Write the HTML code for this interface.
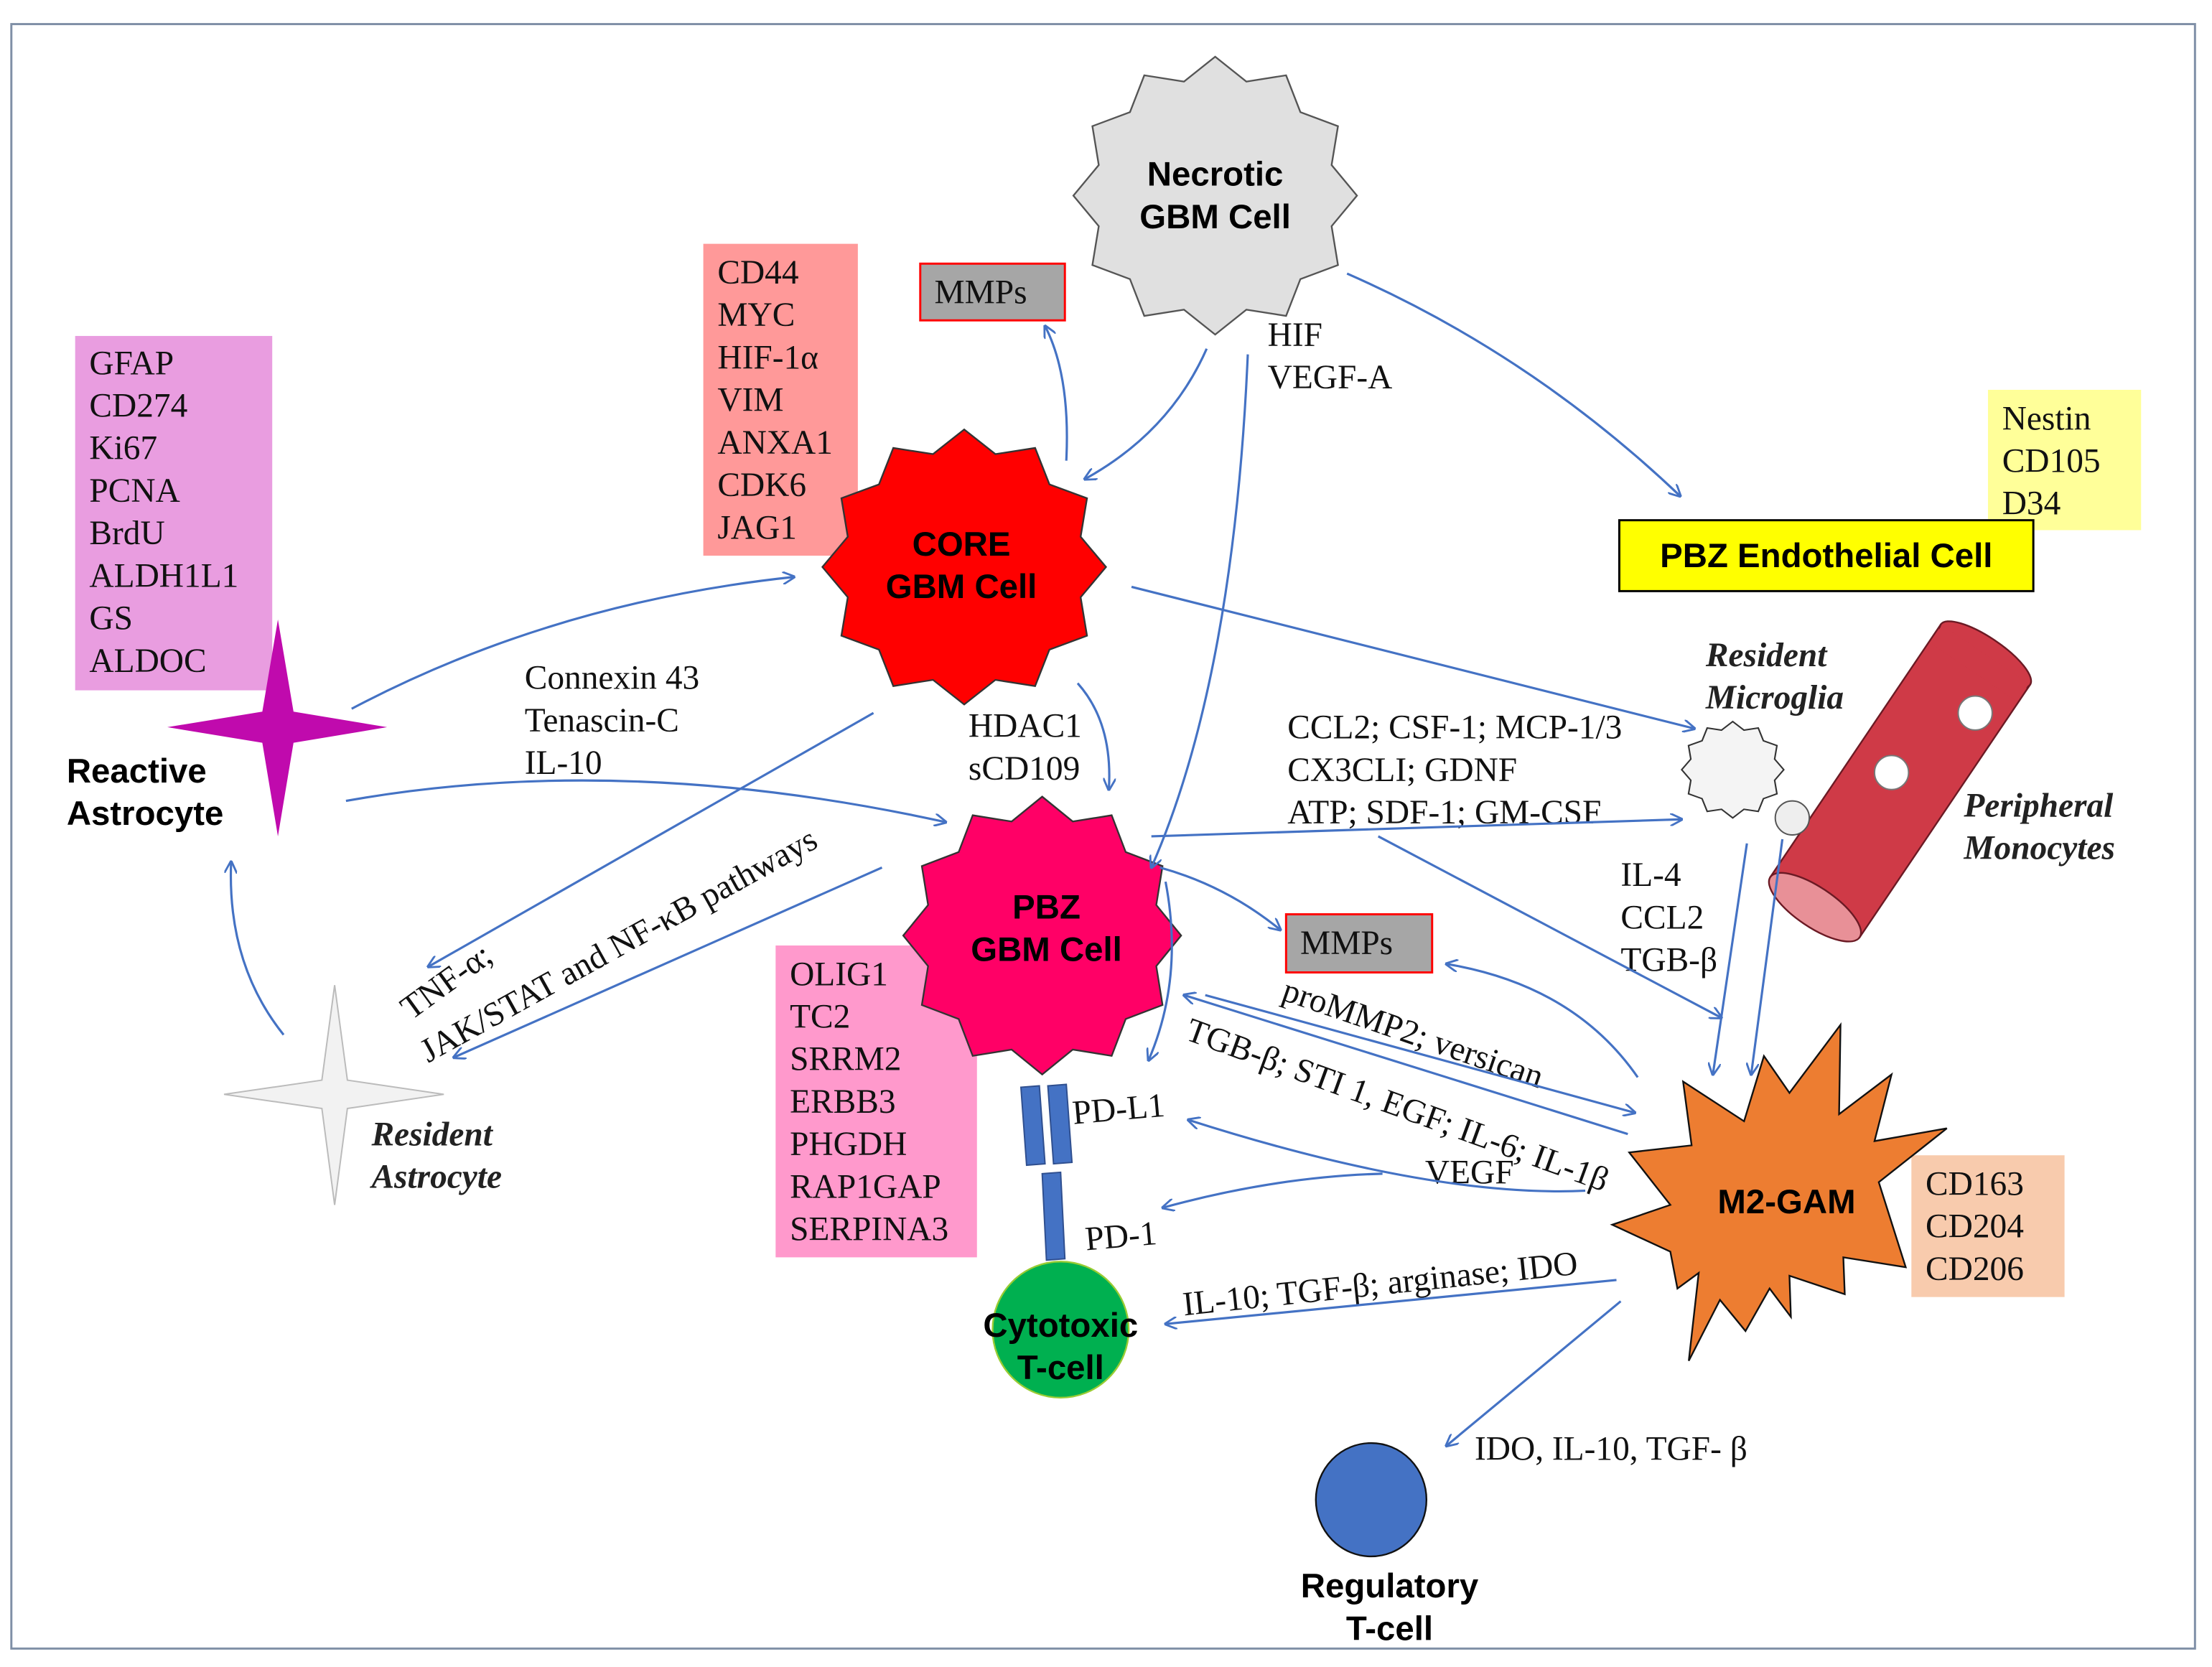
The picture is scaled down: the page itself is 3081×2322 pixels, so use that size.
<!DOCTYPE html>
<html><head><meta charset="utf-8"><style>
html,body{margin:0;padding:0;background:#fff}
svg{display:block}
.s{font-family:"Liberation Serif",serif;font-size:24px;fill:#111}
.b{font-family:"Liberation Sans",sans-serif;font-weight:bold;font-size:24px;fill:#000}
.i{font-family:"Liberation Serif",serif;font-style:italic;font-weight:bold;font-size:24px;fill:#222}
.a{fill:none;stroke:#4472c4;stroke-width:1.6;marker-end:url(#ah)}
</style></head><body>
<svg width="3081" height="2322" viewBox="0 0 1560 1176" preserveAspectRatio="none" xmlns="http://www.w3.org/2000/svg">
<defs>
<marker id="ah" viewBox="0 0 10 10" refX="9" refY="5" markerWidth="9" markerHeight="9" orient="auto" markerUnits="userSpaceOnUse">
<path d="M0,0 L10,5 L0,10" fill="none" stroke="#4472c4" stroke-width="1.6"/></marker>
<polygon id="st12" points="1,0 .821,.220 .866,.5 .601,.601 .5,.866 .220,.821 0,1 -.220,.821 -.5,.866 -.601,.601 -.866,.5 -.821,.220 -1,0 -.821,-.220 -.866,-.5 -.601,-.601 -.5,-.866 -.220,-.821 0,-1 .220,-.821 .5,-.866 .601,-.601 .866,-.5 .821,-.220"/>
</defs>
<rect x="8" y="17" width="1540" height="1146" fill="#fff" stroke="#7f8fa6" stroke-width="1.5"/>

<!-- boxes -->
<rect x="53" y="237" width="139" height="250" fill="#e99de0"/>
<g class="s"><text x="63" y="264">GFAP</text><text x="63" y="294">CD274</text><text x="63" y="324">Ki67</text><text x="63" y="354">PCNA</text><text x="63" y="384">BrdU</text><text x="63" y="414">ALDH1L1</text><text x="63" y="444">GS</text><text x="63" y="474">ALDOC</text></g>
<rect x="496" y="172" width="109" height="220" fill="#ff9999"/>
<g class="s"><text x="506" y="200">CD44</text><text x="506" y="230">MYC</text><text x="506" y="260">HIF-1α</text><text x="506" y="290">VIM</text><text x="506" y="320">ANXA1</text><text x="506" y="350">CDK6</text><text x="506" y="380">JAG1</text></g>
<rect x="649" y="186" width="102" height="40" fill="#a6a6a6" stroke="#ff0000" stroke-width="1.5"/>
<text class="s" x="659" y="214">MMPs</text>
<rect x="1402" y="275" width="108" height="99" fill="#ffff99"/>
<g class="s"><text x="1412" y="303">Nestin</text><text x="1412" y="333">CD105</text><text x="1412" y="363">D34</text></g>
<rect x="1142" y="367" width="292" height="50" fill="#ffff00" stroke="#000" stroke-width="1.5"/>
<text class="b" x="1288" y="400" text-anchor="middle">PBZ Endothelial Cell</text>
<rect x="547" y="667" width="142" height="220" fill="#ff99cc"/>
<g class="s"><text x="557" y="695">OLIG1</text><text x="557" y="725">TC2</text><text x="557" y="755">SRRM2</text><text x="557" y="785">ERBB3</text><text x="557" y="815">PHGDH</text><text x="557" y="845">RAP1GAP</text><text x="557" y="875">SERPINA3</text></g>
<rect x="907" y="645" width="103" height="41" fill="#a6a6a6" stroke="#ff0000" stroke-width="1.5"/>
<text class="s" x="917" y="673">MMPs</text>
<rect x="1348" y="815" width="108" height="100" fill="#f8cbad"/>
<g class="s"><text x="1358" y="843">CD163</text><text x="1358" y="873">CD204</text><text x="1358" y="903">CD206</text></g>

<!-- stars -->
<use href="#st12" transform="translate(857,138) scale(100,98)" fill="#e0e0e0" stroke="#555" stroke-width="0.012"/>
<text class="b" x="857" y="131" text-anchor="middle">Necrotic</text><text class="b" x="857" y="161" text-anchor="middle">GBM Cell</text>
<use href="#st12" transform="translate(680,400) scale(100,97)" fill="#ff0000" stroke="#333" stroke-width="0.012"/>
<text class="b" x="678" y="392" text-anchor="middle">CORE</text><text class="b" x="678" y="422" text-anchor="middle">GBM Cell</text>
<use href="#st12" transform="translate(735,660) scale(98,98)" fill="#ff0066" stroke="#333" stroke-width="0.012"/>
<text class="b" x="738" y="648" text-anchor="middle">PBZ</text><text class="b" x="738" y="678" text-anchor="middle">GBM Cell</text>
<polygon points="1298,723 1297,786 1334,758 1322,805 1373,796 1325,834 1344,894 1300,887 1301,913 1262,900 1263,929 1248,909 1231,939 1213,917 1191,960 1198,898 1183,909 1178,883 1137,864 1178,850 1149,813 1193,808 1187,763 1230,791 1244,745 1262,771" fill="#ed7d31" stroke="#111" stroke-width="1.2"/>
<text class="b" x="1260" y="856" text-anchor="middle">M2-GAM</text>
<!-- microglia -->
<use href="#st12" transform="translate(1222,543) scale(36,34)" fill="#f4f4f4" stroke="#333" stroke-width="0.03" />
<!-- astrocytes -->
<polygon points="196,437 207,502 273,513 207,524 196,590 185,524 118,513 185,502" fill="#c00aad"/>
<text class="b" x="47" y="552">Reactive</text><text class="b" x="47" y="582">Astrocyte</text>
<polygon points="236,695 245,762 313,772 245,782 236,850 227,782 158,772 227,762" fill="#f2f2f2" stroke="#bbb" stroke-width="1"/>
<text class="i" x="262" y="808">Resident</text><text class="i" x="262" y="838">Astrocyte</text>

<!-- vessel -->
<g transform="translate(1280,640) rotate(-56)">
<rect x="0" y="-38" width="215" height="76" fill="#cf3a47" stroke="#6b1a24" stroke-width="1.2"/>
<ellipse cx="215" cy="0" rx="12" ry="38" fill="#cf3a47" stroke="#6b1a24" stroke-width="1.2"/>
<rect x="200" y="-37" width="15" height="74" fill="#cf3a47"/>
<ellipse cx="0" cy="0" rx="14" ry="38" fill="#e89097" stroke="#6b1a24" stroke-width="1.2"/>
</g>
<circle cx="1393" cy="503" r="12" fill="#fff" stroke="#777"/>
<circle cx="1334" cy="545" r="12" fill="#fff" stroke="#777"/>
<circle cx="1264" cy="577" r="12" fill="#eee" stroke="#555"/>
<text class="i" x="1203" y="470">Resident</text><text class="i" x="1203" y="500">Microglia</text>
<text class="i" x="1385" y="576">Peripheral</text><text class="i" x="1385" y="606">Monocytes</text>

<!-- PD-L1 / PD-1 -->
<polygon points="720,767 733,766 737,821 724,822" fill="#4472c4" stroke="#2f4f8f"/>
<polygon points="739,766 752,765 756,820 743,821" fill="#4472c4" stroke="#2f4f8f"/>
<polygon points="735,828 748,827 751,888 738,889" fill="#4472c4" stroke="#2f4f8f"/>
<text class="s" x="757" y="793" transform="rotate(-5 757 793)">PD-L1</text>
<text class="s" x="766" y="882" transform="rotate(-5 766 882)">PD-1</text>
<circle cx="748" cy="938" r="48" fill="#00b050" stroke="#9c3" stroke-width="1.2"/>
<text class="b" x="748" y="943" text-anchor="middle">Cytotoxic</text><text class="b" x="748" y="973" text-anchor="middle">T-cell</text>
<ellipse cx="967" cy="1058" rx="39" ry="40" fill="#4472c4" stroke="#111" stroke-width="1.2"/>
<text class="b" x="980" y="1127" text-anchor="middle">Regulatory</text><text class="b" x="980" y="1157" text-anchor="middle">T-cell</text>

<!-- labels -->
<g class="s">
<text x="370" y="486">Connexin 43</text><text x="370" y="516">Tenascin-C</text><text x="370" y="546">IL-10</text>
<text x="683" y="520">HDAC1</text><text x="683" y="550">sCD109</text>
<text x="894" y="244">HIF</text><text x="894" y="274">VEGF-A</text>
<text x="908" y="521">CCL2; CSF-1; MCP-1/3</text><text x="908" y="551">CX3CLI; GDNF</text><text x="908" y="581">ATP; SDF-1; GM-CSF</text>
<text x="1143" y="625">IL-4</text><text x="1143" y="655">CCL2</text><text x="1143" y="685">TGB-β</text>
<text x="903" y="705" transform="rotate(19 903 705)">proMMP2; versican</text>
<text x="835" y="733" transform="rotate(20 835 733)">TGB-β; STI 1, EGF; IL-6; IL-1β</text>
<text x="1005" y="835">VEGF</text>
<text x="835" y="928" transform="rotate(-6 835 928)">IL-10; TGF-β; arginase; IDO</text>
<text x="1040" y="1030">IDO, IL-10, TGF- β</text>
<text x="290" y="720" transform="rotate(-36 290 720)">TNF-α;</text>
<text x="302" y="750" transform="rotate(-29 302 750)">JAK/STAT and NF-κB pathways</text>
</g>

<!-- arrows -->
<path class="a" d="M248,500 Q390,425 560,407"/>
<path class="a" d="M244,565 Q440,530 667,580"/>
<path class="a" d="M200,730 Q160,680 163,608"/>
<path class="a" d="M616,503 L302,682"/>
<path class="a" d="M622,612 L320,746"/>
<path class="a" d="M752,325 Q755,265 737,230"/>
<path class="a" d="M851,246 Q825,305 765,338"/>
<path class="a" d="M880,250 Q870,480 812,612"/>
<path class="a" d="M950,193 Q1080,250 1185,350"/>
<path class="a" d="M798,414 L1195,514"/>
<path class="a" d="M760,482 Q785,510 782,557"/>
<path class="a" d="M812,590 L1186,578"/>
<path class="a" d="M818,612 Q865,625 903,656"/>
<path class="a" d="M822,622 Q835,690 810,748"/>
<path class="a" d="M972,590 L1214,718"/>
<path class="a" d="M1232,595 L1208,758"/>
<path class="a" d="M1257,592 L1235,758"/>
<path class="a" d="M1155,760 Q1110,695 1020,680"/>
<path class="a" d="M850,702 L1153,785"/>
<path class="a" d="M1148,800 L835,702"/>
<path class="a" d="M1118,840 Q1010,845 838,790"/>
<path class="a" d="M975,828 Q900,830 820,852"/>
<path class="a" d="M1140,903 L822,934"/>
<path class="a" d="M1143,918 L1020,1020"/>
</svg>
</body></html>
